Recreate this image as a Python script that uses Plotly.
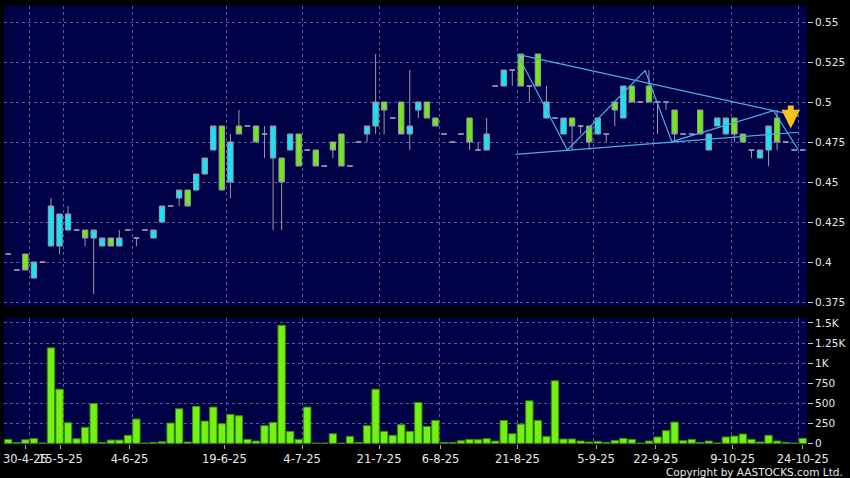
import plotly.graph_objects as go

# ---------------- data ----------------
day = list(range(94))

open_ = [0.405, 0.395, 0.405, 0.39, 0.4, 0.41, 0.41, 0.42, 0.42, 0.42,
         0.415, 0.41, 0.415, 0.41, 0.42, 0.415, 0.42, 0.415, 0.425, 0.435,
         0.44, 0.445, 0.445, 0.455, 0.47, 0.485, 0.45, 0.485, 0.485, 0.485,
         0.48, 0.465, 0.465, 0.47, 0.48, 0.47, 0.47, 0.46, 0.475, 0.48,
         0.46, 0.475, 0.48, 0.485, 0.5, 0.49, 0.5, 0.48, 0.495, 0.5,
         0.49, 0.48, 0.475, 0.48, 0.49, 0.47, 0.47, 0.51, 0.51, 0.52,
         0.53, 0.51, 0.53, 0.49, 0.49, 0.48, 0.49, 0.485, 0.485, 0.48,
         0.48, 0.5, 0.49, 0.51, 0.5, 0.51, 0.5, 0.5, 0.495, 0.48,
         0.48, 0.495, 0.47, 0.485, 0.48, 0.49, 0.48, 0.47, 0.465, 0.47,
         0.49, 0.475, 0.47, 0.47]
high = [0.405, 0.395, 0.405, 0.4, 0.4, 0.44, 0.43, 0.435, 0.42, 0.42,
        0.42, 0.415, 0.415, 0.42, 0.42, 0.415, 0.42, 0.42, 0.435, 0.435,
        0.445, 0.445, 0.455, 0.465, 0.485, 0.485, 0.48, 0.495, 0.485, 0.485,
        0.485, 0.485, 0.465, 0.48, 0.48, 0.47, 0.47, 0.46, 0.475, 0.48,
        0.46, 0.475, 0.485, 0.53, 0.5, 0.49, 0.5, 0.52, 0.5, 0.5,
        0.49, 0.48, 0.475, 0.48, 0.49, 0.475, 0.49, 0.51, 0.52, 0.52,
        0.53, 0.51, 0.53, 0.51, 0.49, 0.49, 0.49, 0.485, 0.485, 0.49,
        0.48, 0.5, 0.51, 0.51, 0.5, 0.52, 0.5, 0.5, 0.495, 0.48,
        0.48, 0.495, 0.48, 0.49, 0.49, 0.49, 0.48, 0.47, 0.47, 0.485,
        0.495, 0.475, 0.47, 0.47]
low = [0.405, 0.395, 0.395, 0.39, 0.4, 0.41, 0.405, 0.42, 0.42, 0.41,
       0.38, 0.41, 0.41, 0.41, 0.42, 0.41, 0.42, 0.415, 0.425, 0.435,
       0.435, 0.435, 0.445, 0.455, 0.47, 0.445, 0.44, 0.48, 0.485, 0.475,
       0.465, 0.42, 0.42, 0.47, 0.46, 0.47, 0.46, 0.46, 0.465, 0.46,
       0.46, 0.475, 0.475, 0.48, 0.48, 0.49, 0.48, 0.47, 0.49, 0.49,
       0.485, 0.48, 0.475, 0.48, 0.47, 0.47, 0.47, 0.51, 0.51, 0.51,
       0.51, 0.5, 0.51, 0.49, 0.49, 0.48, 0.47, 0.48, 0.47, 0.48,
       0.475, 0.485, 0.49, 0.5, 0.5, 0.5, 0.48, 0.495, 0.475, 0.48,
       0.48, 0.48, 0.47, 0.485, 0.48, 0.475, 0.475, 0.465, 0.465, 0.46,
       0.47, 0.475, 0.47, 0.47]
close = [0.405, 0.395, 0.395, 0.4, 0.4, 0.435, 0.43, 0.43, 0.42, 0.415,
         0.42, 0.415, 0.41, 0.415, 0.42, 0.415, 0.42, 0.42, 0.435, 0.435,
         0.445, 0.435, 0.455, 0.465, 0.485, 0.445, 0.475, 0.48, 0.485, 0.475,
         0.48, 0.485, 0.45, 0.48, 0.46, 0.47, 0.46, 0.46, 0.47, 0.46,
         0.46, 0.475, 0.485, 0.5, 0.495, 0.49, 0.48, 0.485, 0.5, 0.49,
         0.485, 0.48, 0.475, 0.48, 0.475, 0.47, 0.48, 0.51, 0.52, 0.52,
         0.51, 0.51, 0.51, 0.5, 0.49, 0.49, 0.485, 0.485, 0.475, 0.49,
         0.48, 0.495, 0.51, 0.5, 0.5, 0.5, 0.5, 0.5, 0.48, 0.48,
         0.48, 0.48, 0.48, 0.49, 0.49, 0.48, 0.475, 0.47, 0.47, 0.485,
         0.475, 0.475, 0.47, 0.47]
volume = [50, 10, 45, 60, 5, 1190, 675, 257, 58, 200,
          497, 12, 41, 41, 100, 303, 4, 12, 20, 253,
          431, 17, 460, 278, 452, 245, 361, 344, 50, 29,
          220, 261, 1472, 149, 50, 452, 2, 2, 120, 2,
          87, 12, 220, 675, 149, 100, 232, 149, 510, 211,
          286, 12, 12, 33, 50, 46, 58, 29, 286, 120,
          240, 530, 286, 87, 780, 54, 54, 29, 17, 25,
          12, 37, 62, 50, 2, 29, 79, 158, 265, 33,
          50, 12, 29, 4, 79, 91, 116, 50, 17, 100,
          29, 12, 3, 62]

date_labels = ["30-4-25", "15-5-25", "4-6-25", "19-6-25", "4-7-25", "21-7-25",
               "6-8-25", "21-8-25", "5-9-25", "22-9-25", "9-10-25", "24-10-25"]
date_label_pos = [2.0, 6.1, 14.2, 25.3, 34.4, 43.4, 50.6, 59.6, 68.8, 75.8, 84.8, 93.0]
date_grid_pos = [2.46, 6.44, 14.57, 25.57, 34.47, 43.44, 50.47, 59.57, 68.5, 75.5, 84.66, 92.55]

price_ticks = [0.375, 0.4, 0.425, 0.45, 0.475, 0.5, 0.525, 0.55]
price_tick_text = ["0.375", "0.4", "0.425", "0.45", "0.475", "0.5", "0.525", "0.55"]
vol_ticks = [0, 250, 500, 750, 1000, 1250, 1500]
vol_tick_text = ["0", "250", "500", "750", "1K", "1.25K", "1.5K"]

# trend lines (day index, price)
upper_x = [59.6, 92.5]
upper_y = [0.5298, 0.4912]
lower_x = [59.4, 92.5]
lower_y = [0.4673, 0.4811]
zigzag_x = [59.6, 65.45, 74.55, 77.68, 89.58, 92.5]
zigzag_y = [0.5298, 0.470, 0.5196, 0.4752, 0.4946, 0.470]

signal_day = 91.6
signal_top = 0.4988
signal_tip = 0.4835

# ---------------- style ----------------
NAVY = "#000046"
CYAN = "#14e4f4"
GREEN = "#70ea10"
EDGE = "#9a9aaa"
GRID = "#5a5a92"
LINE = "#4aaee6"
TXT = "#e8e8e8"
FONT = "DejaVu Sans"

fig = go.Figure()

fig.add_trace(go.Candlestick(
    x=day, open=open_, high=high, low=low, close=close,
    increasing=dict(fillcolor=CYAN, line=dict(color=EDGE, width=1)),
    decreasing=dict(fillcolor=GREEN, line=dict(color=EDGE, width=1)),
    whiskerwidth=0, showlegend=False, xaxis="x", yaxis="y",
))

for xs, ys in [(upper_x, upper_y), (lower_x, lower_y), (zigzag_x, zigzag_y)]:
    fig.add_trace(go.Scatter(x=xs, y=ys, mode="lines",
                             line=dict(color=LINE, width=1.2),
                             showlegend=False, hoverinfo="skip",
                             xaxis="x", yaxis="y"))

fig.add_trace(go.Bar(
    x=day, y=volume, width=0.86,
    marker=dict(color="#72f214", line=dict(color="#3c8a08", width=1)),
    showlegend=False, xaxis="x2", yaxis="y2",
))

fig.add_annotation(
    x=signal_day, y=signal_tip, ax=signal_day, ay=signal_top,
    xref="x", yref="y", axref="x", ayref="y",
    showarrow=True, arrowhead=2, arrowsize=0.62, arrowwidth=6,
    arrowcolor="#f6c21c", text="",
)

fig.add_annotation(
    text="Copyright by AASTOCKS.com Ltd.", xref="paper", yref="paper",
    x=1.047, y=-0.064, xanchor="right", yanchor="middle", showarrow=False,
    font=dict(family=FONT, size=10.5, color=TXT),
)

xcommon = dict(
    range=[-0.5, 93.5], showline=False, zeroline=False, automargin=False,
    tickmode="array", tickvals=date_label_pos, ticktext=date_labels,
    showgrid=False, tickangle=0,
    minor=dict(tickmode="array", tickvals=date_grid_pos, showgrid=True,
               gridcolor=GRID, griddash="3px,3px", gridwidth=1, ticks=""),
)

fig.update_layout(
    template="none",
    width=850, height=478,
    paper_bgcolor="#000000", plot_bgcolor=NAVY,
    margin=dict(l=4, r=43, t=6, b=34, autoexpand=False),
    showlegend=False,
    bargap=0.14, boxgap=0.1,
    font=dict(family=FONT, size=11, color=TXT),
    xaxis=dict(xcommon, domain=[0, 1], anchor="y", showticklabels=False,
               ticks="", rangeslider=dict(visible=False)),
    xaxis2=dict(xcommon, domain=[0, 1], anchor="y2", showticklabels=True,
                ticks="outside", ticklen=4, tickcolor="#aaaaaa",
                tickfont=dict(family=FONT, size=11.5, color=TXT)),
    yaxis=dict(domain=[0.315, 1], range=[0.3725, 0.56], side="right",
               automargin=False,
               tickmode="array", tickvals=price_ticks, ticktext=price_tick_text,
               ticks="outside", ticklen=5, tickcolor="#cccccc",
               showgrid=True, gridcolor=GRID, griddash="3px,3px",
               zeroline=False, showline=False,
               tickfont=dict(family=FONT, size=10.5, color=TXT)),
    yaxis2=dict(domain=[0, 0.2877], range=[-8, 1562], side="right",
                automargin=False,
                tickmode="array", tickvals=vol_ticks, ticktext=vol_tick_text,
                ticks="outside", ticklen=5, tickcolor="#cccccc",
                showgrid=True, gridcolor=GRID, griddash="3px,3px",
                zeroline=False, showline=False,
                tickfont=dict(family=FONT, size=10.5, color=TXT)),
)

fig.write_html(
    "out.html",
    config={"displayModeBar": False},
    post_script="document.body.style.margin='0';document.body.style.background='#000';"
                "document.body.style.overflow='hidden';",
)
